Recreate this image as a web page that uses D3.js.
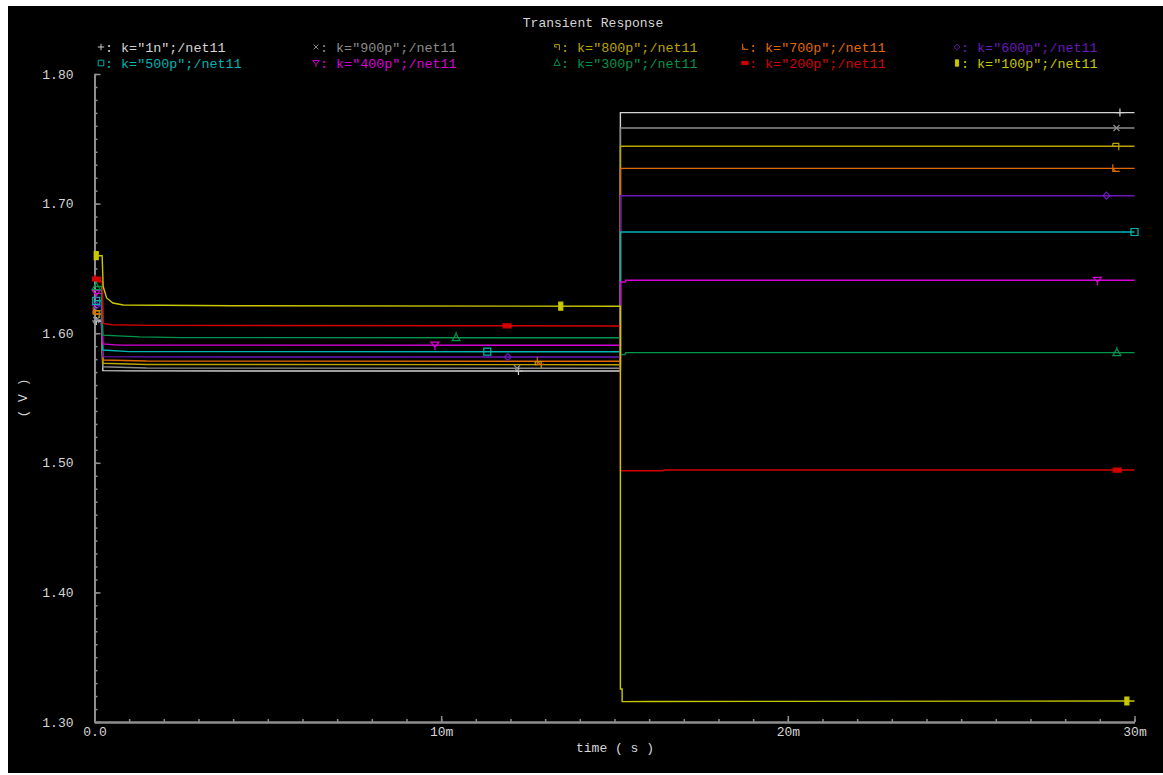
<!DOCTYPE html>
<html>
<head>
<meta charset="utf-8">
<script src="https://cdn.jsdelivr.net/npm/d3@7"></script>
<style>
  html, body { margin: 0; padding: 0; background: #ffffff; }
  svg { display: block; }
  text { font-family: "Liberation Mono", "DejaVu Sans Mono", monospace; }
</style>
</head>
<body>
<svg id="chart" width="1163" height="775"></svg>
<script>
// ---- data: time in ms, voltage in V ----
const seriesNames = ["1n", "900p", "800p", "700p", "600p", "500p", "400p", "300p", "200p", "100p"];

const wave1n   = [[0,1.6094],[0.2,1.6094],[0.24,1.5711],[1.0,1.5709],[15.17,1.5708],[15.17,1.7702],[30,1.7702]];
const wave900p = [[0,1.6102],[0.2,1.6102],[0.24,1.5741],[1.5,1.5731],[15.17,1.5729],[15.17,1.7583],[30,1.7583]];
const wave800p = [[0,1.6148],[0.2,1.6148],[0.24,1.5768],[1.5,1.5759],[15.17,1.5757],[15.17,1.7442],[30,1.7442]];
const wave700p = [[0,1.6174],[0.2,1.6174],[0.24,1.5793],[1.5,1.5785],[15.17,1.5783],[15.17,1.7272],[30,1.7272]];
const wave600p = [[0,1.6213],[0.2,1.6213],[0.24,1.5819],[1.5,1.5817],[15.17,1.5816],[15.17,1.7061],[30,1.7061]];
const wave500p = [[0,1.6250],[0.2,1.6250],[0.24,1.5870],[1.0,1.5858],[15.17,1.5857],[15.17,1.6781],[30,1.6781]];
const wave400p = [[0,1.6307],[0.2,1.6307],[0.24,1.5917],[0.7,1.5908],[15.17,1.5907],[15.17,1.6395],[15.3,1.6395],[15.33,1.6408],[30,1.6408]];
const wave300p = [[0,1.6360],[0.2,1.6360],[0.24,1.5985],[1.3,1.5972],[2.5,1.5966],[15.17,1.5965],[15.17,1.5835],[15.3,1.5835],[15.33,1.5850],[30,1.5850]];
const wave200p = [[0,1.6450],[0.1,1.6397],[0.22,1.6397],[0.26,1.6075],[0.5,1.6065],[1.6,1.6060],[15.17,1.6056],[15.17,1.4939],[16.4,1.4939],[16.45,1.4944],[30,1.4944]];
const wave100p = [[0,1.6598],[0.22,1.6598],[0.25,1.6360],[0.35,1.6272],[0.53,1.6233],[0.83,1.6218],[4,1.6212],[15.17,1.6208],[15.17,1.3255],[15.22,1.3255],[15.22,1.3157],[16,1.3158],[30,1.3162]];

const waves = [wave1n, wave900p, wave800p, wave700p, wave600p, wave500p, wave400p, wave300p, wave200p, wave100p];

// times (ms) where each curve carries its marker symbol
const markerTimes = [
  [0.05, 12.23, 29.58],
  [0.05, 12.19, 29.48],
  [0.05, 12.80, 29.46],
  [0.05, 12.86, 29.46],
  [0.05, 11.92, 29.19],
  [0.05, 11.33, 30.00],
  [0.05, 9.82, 28.93],
  [0.05, 10.43, 29.49],
  [0.06, 11.90, 29.50],
  [0.05, 13.45, 29.78]
];

const yTickValues = [1.30, 1.40, 1.50, 1.60, 1.70, 1.80];
const yTickLabels = ["1.30", "1.40", "1.50", "1.60", "1.70", "1.80"];
const xTickValues = [0, 10, 20, 30];
const xTickLabels = ["0.0", "10m", "20m", "30m"];

// ---- styling ----
const seriesColors = ["#d4d4d4", "#8c8c8c", "#bba400", "#e06a00", "#6a18bc",
                      "#00b4b4", "#d800d8", "#00964c", "#d40000", "#c8c800"];
const markerShapes = ["plus", "cross", "hook", "ell", "diamond",
                      "square", "tridown", "triup", "barH", "barV"];
const textColor = "#d6d6d6";
const axisColor = "#8e8e8e";

const svg = d3.select("#chart");
svg.append("rect").attr("x", 8).attr("y", 6).attr("width", 1155).attr("height", 767).attr("fill", "#000000");

const x = d3.scaleLinear().domain([0, 30]).range([94.5, 1134.5]);
const y = d3.scaleLinear().domain([1.30, 1.80]).range([722, 74]);

// marker glyph paths centred on the origin
function markerPath(shape) {
  switch (shape) {
    case "plus":    return "M-4,0H4M0,-4V4";
    case "cross":   return "M-3,-3L3,3M-3,3L3,-3";
    case "hook":    return "M-3,-3H3V4M-3,-3V0H0";
    case "ell":     return "M-3,-4V3H4M-3,0L0,3";
    case "diamond": return "M0,-3.5L3.5,0L0,3.5L-3.5,0Z";
    case "square":  return "M-3.5,-3.5H3.5V3.5H-3.5Z";
    case "tridown": return "M-4,-3H4L0,2ZM0,2V5";
    case "triup":   return "M0,-4L4,3H-4ZM0,-4V-6";
    case "barH":    return "M-4,-2H4V2H-4Z";
    case "barV":    return "M-2,-4H2V4H-2Z";
  }
}
const filledShapes = new Set(["barH", "barV"]);

function valueAt(wave, t) {
  for (let i = 1; i < wave.length; i++) {
    const a = wave[i - 1], b = wave[i];
    if (t >= a[0] && t <= b[0]) {
      if (b[0] === a[0]) return a[1];
      return a[1] + (b[1] - a[1]) * (t - a[0]) / (b[0] - a[0]);
    }
  }
  return wave[wave.length - 1][1];
}

// ---- axes ----
const axisG = svg.append("g");

const yMinor = d3.range(130, 181).map(d => d / 100);
axisG.append("g").attr("transform", "translate(94.5,0)")
  .call(d3.axisLeft(y).tickValues(yMinor).tickSize(-3).tickSizeOuter(0).tickFormat(""));
axisG.append("g").attr("transform", "translate(94.5,0)")
  .call(d3.axisLeft(y).tickValues(yTickValues).tickSize(-6).tickSizeOuter(0)
    .tickPadding(21).tickFormat((d, i) => yTickLabels[i]));

const xMinor = d3.range(0, 31);
axisG.append("g").attr("transform", "translate(0,722)")
  .call(d3.axisBottom(x).tickValues(xMinor).tickSize(-3).tickSizeOuter(0).tickFormat(""));
axisG.append("g").attr("transform", "translate(0,722)")
  .call(d3.axisBottom(x).tickValues(xTickValues).tickSize(-6).tickSizeOuter(0)
    .tickPadding(5).tickFormat((d, i) => xTickLabels[i]));

axisG.selectAll("path.domain").attr("stroke", axisColor).attr("stroke-width", 2);
axisG.selectAll(".tick line").attr("stroke", axisColor).attr("stroke-width", 1.5);
axisG.selectAll(".tick text").attr("fill", textColor).attr("font-size", 13)
  .attr("font-family", "Liberation Mono, DejaVu Sans Mono, monospace");

// ---- curves ----
const line = d3.line().x(d => x(d[0])).y(d => y(d[1]));
const curves = svg.append("g");
waves.forEach((w, i) => {
  curves.append("path").attr("d", line(w)).attr("fill", "none")
    .attr("stroke", seriesColors[i]).attr("stroke-width", 1.4);
});

// ---- markers on curves ----
const marks = svg.append("g");
waves.forEach((w, i) => {
  markerTimes[i].forEach(t => {
    const filled = filledShapes.has(markerShapes[i]);
    marks.append("path")
      .attr("transform", `translate(${x(t)},${y(valueAt(w, t))})`)
      .attr("d", markerPath(markerShapes[i]))
      .attr("fill", filled ? seriesColors[i] : "none")
      .attr("stroke", seriesColors[i]).attr("stroke-width", 1.2);
  });
});

// ---- title and axis labels ----
svg.append("text").attr("x", 593).attr("y", 27).attr("text-anchor", "middle")
  .attr("fill", textColor).attr("font-size", 13).text("Transient Response");
svg.append("text").attr("x", 615).attr("y", 752).attr("text-anchor", "middle")
  .attr("fill", textColor).attr("font-size", 13).text("time ( s )");
svg.append("text").attr("transform", "translate(27,398) rotate(-90)").attr("text-anchor", "middle")
  .attr("fill", textColor).attr("font-size", 13).text("( V )");

// ---- legend ----
const legendCols = [101, 316, 557, 745, 957];
const legendRows = [48, 64];
const legend = svg.append("g");
seriesNames.forEach((name, i) => {
  const cx = legendCols[i % 5], cy = legendRows[Math.floor(i / 5)];
  const filled = filledShapes.has(markerShapes[i]);
  legend.append("path")
    .attr("transform", `translate(${cx},${cy - 1}) scale(0.8)`)
    .attr("d", markerPath(markerShapes[i]))
    .attr("fill", filled ? seriesColors[i] : "none")
    .attr("stroke", seriesColors[i]).attr("stroke-width", 1.2);
  legend.append("text").attr("x", cx + 4).attr("y", cy + 4)
    .attr("fill", seriesColors[i]).attr("font-size", 13.4)
    .text(`: k="${name}";/net11`);
});
</script>
</body>
</html>
